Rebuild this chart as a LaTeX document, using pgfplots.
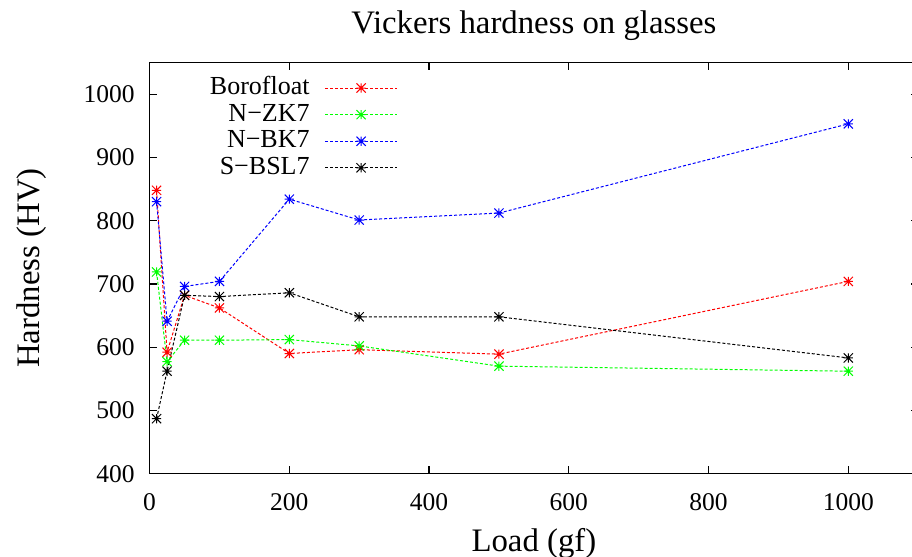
\documentclass[border=0pt]{standalone}
\usepackage{fontspec}
\setmainfont{Liberation Serif}
\usepackage{pgfplots}
\pgfplotsset{compat=1.18}

% gnuplot style point type 3: plus and cross on top of each other
\pgfdeclareplotmark{gpstar}{%
  \pgfpathmoveto{\pgfqpoint{-\pgfplotmarksize}{0pt}}%
  \pgfpathlineto{\pgfqpoint{\pgfplotmarksize}{0pt}}%
  \pgfpathmoveto{\pgfqpoint{0pt}{-\pgfplotmarksize}}%
  \pgfpathlineto{\pgfqpoint{0pt}{\pgfplotmarksize}}%
  \pgfpathmoveto{\pgfqpoint{-\pgfplotmarksize}{-\pgfplotmarksize}}%
  \pgfpathlineto{\pgfqpoint{\pgfplotmarksize}{\pgfplotmarksize}}%
  \pgfpathmoveto{\pgfqpoint{-\pgfplotmarksize}{\pgfplotmarksize}}%
  \pgfpathlineto{\pgfqpoint{\pgfplotmarksize}{-\pgfplotmarksize}}%
  \pgfusepathqstroke}

\begin{document}
\begin{tikzpicture}
  \useasboundingbox (-74.8pt,-41.65pt) rectangle (381.2pt,236.85pt);
  \begin{axis}[
    scale only axis,
    width=384.3pt, height=205.6pt,
    xmin=0, xmax=1100,
    ymin=400, ymax=1050,
    xtick={0,200,...,1000},
    ytick={400,500,...,1000},
    tick align=inside,
    major tick length=3.7pt,
    axis line style={line width=0.6pt},
    tick style={black, line width=0.6pt},
    /pgf/number format/assume math mode=true,
    /pgf/number format/set thousands separator={},
    ticklabel style={font=\fontsize{12.75}{14}\selectfont},
    xticklabel style={anchor=base, yshift=-18.2pt},
    yticklabel style={xshift=-4pt},
    label style={font=\fontsize{16.4}{18}\selectfont},
    xlabel={Load (gf)},
    xlabel style={at={(axis description cs:0.5,-0.1897)}, anchor=base},
    ylabel={Hardness (HV)},
    ylabel style={at={(axis description cs:-0.1426,0.5)}, anchor=base, rotate=0},
    title={Vickers hardness on glasses},
    every axis title shift=0pt,
    title style={at={(axis description cs:0.5,1.0717)}, anchor=base,
      font=\fontsize{16.4}{18}\selectfont},
    legend plot pos=right,
    legend cell align=right,
    legend style={draw=none, fill=none, anchor=north east,
      at={(axis description cs:0.331,0.979)},
      font=\fontsize{13}{15}\selectfont,
      column sep=7.5pt, row sep=0.8pt,
      nodes={inner sep=0pt, text height=9.5pt, text depth=3pt}},
    legend image code/.code={%
      \draw[mark repeat=2, mark phase=2]
        plot coordinates {(0pt,0pt) (18pt,0pt) (36pt,0pt)};},
    every axis plot/.append style={line width=0.5pt,
      dash pattern=on 1.5pt off 1pt, mark=gpstar, mark size=2.3pt,
      mark options={solid}},
  ]
  \addplot[red] coordinates {
    (10,848) (25,592) (50,682) (100,662) (200,590) (300,596) (500,589) (1000,704)
  };
  \addlegendentry{Borofloat}

  \addplot[green] coordinates {
    (10,719) (25,577) (50,611) (100,611) (200,612) (300,602) (500,570) (1000,562)
  };
  \addlegendentry{N−ZK7}

  \addplot[blue] coordinates {
    (10,830) (25,641) (50,696) (100,704) (200,834) (300,801) (500,812) (1000,953)
  };
  \addlegendentry{N−BK7}

  \addplot[black] coordinates {
    (10,487) (25,562) (50,682) (100,680) (200,686) (300,648) (500,648) (1000,583)
  };
  \addlegendentry{S−BSL7}
  \end{axis}
\end{tikzpicture}
\end{document}
